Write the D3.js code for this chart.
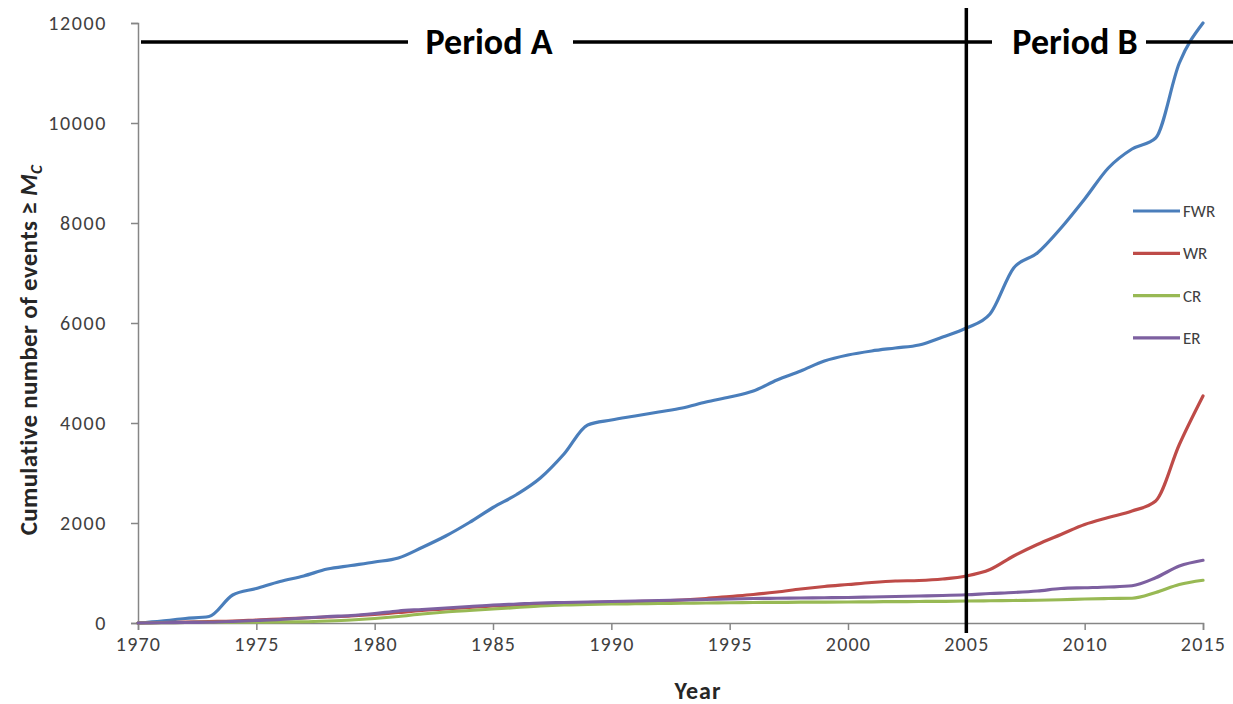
<!DOCTYPE html>
<html>
<head>
<meta charset="utf-8">
<script src="https://cdn.jsdelivr.net/npm/d3@7"></script>
<style>
  html, body { margin: 0; padding: 0; background: #fff; }
  svg { display: block; }
  text { font-family: Carlito, Lato, "Open Sans", sans-serif; }
</style>
</head>
<body>
<svg id="chart" width="1233" height="704"></svg>
<script>
// Years on the x axis
const years = d3.range(1970, 2016);

// Cumulative number of events >= Mc per region, one value per year
const fwr = [0, 40, 90, 130, 560, 690, 830, 940, 1080, 1150, 1220, 1300, 1510, 1740, 2010, 2310,
  2570, 2900, 3380, 3960, 4060, 4140, 4220, 4300, 4420, 4520, 4640, 4860, 5040, 5240,
  5360, 5440, 5500, 5560, 5720, 5900, 6180, 7100, 7400, 7900, 8480, 9100, 9480, 9700, 11200, 12000];
const wr = [0, 10, 20, 30, 40, 60, 80, 100, 120, 140, 170, 210, 250, 280, 310, 340,
  360, 380, 400, 410, 420, 430, 440, 460, 490, 530, 570, 620, 680, 730,
  770, 810, 840, 850, 880, 940, 1070, 1340, 1570, 1770, 1970, 2110, 2240, 2440, 3570, 4540];
const cr = [0, 5, 10, 12, 15, 18, 20, 25, 40, 60, 90, 130, 180, 220, 250, 280,
  310, 340, 360, 370, 380, 385, 390, 395, 400, 405, 410, 413, 416, 418,
  420, 424, 427, 430, 433, 440, 445, 450, 455, 465, 480, 490, 495, 610, 770, 855];
const er = [0, 5, 10, 15, 30, 50, 70, 100, 130, 150, 190, 240, 270, 300, 330, 360,
  380, 400, 410, 420, 430, 440, 450, 460, 470, 480, 490, 495, 500, 505,
  510, 520, 530, 540, 550, 565, 590, 610, 640, 690, 705, 720, 745, 905, 1140, 1255];

const seriesNames = ["FWR", "WR", "CR", "ER"];
const seriesValues = [fwr, wr, cr, er];
const seriesColors = ["#4a7ebb", "#be4b48", "#98b954", "#7d60a0"];

const xTicks = d3.range(1970, 2016, 5);
const yTicks = d3.range(0, 12001, 2000);

// Period annotation: split year and level of the period bar
const periodSplit = 2005;
const periodLevel = 11620;
const periodLabels = ["Period A", "Period B"];

const svg = d3.select("#chart");
const W = 1233;

const x = d3.scaleLinear().domain([1970, 2015]).range([138, 1203]);
const y = d3.scaleLinear().domain([0, 12000]).range([623, 23]);

const axisColor = "#868686";
const labelColor = "#404040";

// Y axis
const yAxis = svg.append("g")
  .attr("transform", `translate(${x(1970)},0)`)
  .call(d3.axisLeft(y).tickValues(yTicks).tickFormat(d3.format("d")).tickSize(7).tickPadding(24));
yAxis.select(".domain").attr("stroke", axisColor).attr("stroke-width", 1.5);
yAxis.selectAll(".tick line").attr("stroke", axisColor).attr("stroke-width", 1.5);
yAxis.selectAll(".tick text").attr("fill", labelColor).attr("font-size", 20)
  .attr("letter-spacing", 1.6)
  .attr("font-family", "Carlito, Lato, sans-serif");

// X axis
const xAxis = svg.append("g")
  .attr("transform", `translate(0,${y(0)})`)
  .call(d3.axisBottom(x).tickValues(xTicks).tickFormat(d3.format("d")).tickSize(7).tickPadding(7));
xAxis.select(".domain").attr("stroke", axisColor).attr("stroke-width", 1.5);
xAxis.selectAll(".tick line").attr("stroke", axisColor).attr("stroke-width", 1.5);
xAxis.selectAll(".tick text").attr("fill", labelColor).attr("font-size", 20)
  .attr("letter-spacing", 1.2)
  .attr("font-family", "Carlito, Lato, sans-serif");

// Series lines
const line = d3.line()
  .x((d, i) => x(years[i]))
  .y(d => y(d))
  .curve(d3.curveMonotoneX);

svg.append("g").selectAll("path")
  .data(seriesValues)
  .join("path")
  .attr("d", d => line(d))
  .attr("fill", "none")
  .attr("stroke", (d, i) => seriesColors[i])
  .attr("stroke-width", 3.2)
  .attr("stroke-linejoin", "round")
  .attr("stroke-linecap", "round");

// Period bar with labels
const py = y(periodLevel);
const bar = svg.append("g").attr("stroke", "#000").attr("stroke-width", 3.5);
bar.append("line").attr("x1", x(1970) + 3).attr("x2", 408).attr("y1", py).attr("y2", py);
bar.append("line").attr("x1", 573).attr("x2", 992).attr("y1", py).attr("y2", py);
bar.append("line").attr("x1", 1146).attr("x2", W).attr("y1", py).attr("y2", py);
bar.append("line").attr("x1", x(periodSplit)).attr("x2", x(periodSplit))
  .attr("y1", 8).attr("y2", y(0) + 10);

const periodX = [489, 1075];
svg.selectAll("text.period")
  .data(periodLabels)
  .join("text")
  .attr("class", "period")
  .attr("x", (d, i) => periodX[i])
  .attr("y", py + 12)
  .attr("text-anchor", "middle")
  .attr("font-size", 36)
  .attr("font-weight", "bold")
  .attr("fill", "#000")
  .text(d => d);

// Legend
const legend = svg.append("g");
seriesNames.forEach((name, i) => {
  const ly = 211 + i * 42.3;
  legend.append("line")
    .attr("x1", 1133).attr("x2", 1180).attr("y1", ly).attr("y2", ly)
    .attr("stroke", seriesColors[i]).attr("stroke-width", 3.2);
  legend.append("text")
    .attr("x", 1183).attr("y", ly + 6)
    .attr("font-size", 17).attr("fill", labelColor)
    .text(name);
});

// Axis titles
svg.append("text")
  .attr("x", 698)
  .attr("y", 699)
  .attr("text-anchor", "middle")
  .attr("font-size", 24).attr("font-weight", "bold").attr("fill", "#262626")
  .attr("letter-spacing", 1)
  .text("Year");

const yTitle = svg.append("text")
  .attr("transform", "translate(37,350) rotate(-90)")
  .attr("text-anchor", "middle")
  .attr("font-size", 25).attr("font-weight", "bold").attr("fill", "#262626")
  .attr("letter-spacing", 0.3);
yTitle.append("tspan").text("Cumulative number of events \u2265 ");
yTitle.append("tspan").attr("font-style", "italic").text("M");
yTitle.append("tspan").attr("font-style", "italic").attr("font-size", 17).attr("dy", 5).text("C");
</script>
</body>
</html>
